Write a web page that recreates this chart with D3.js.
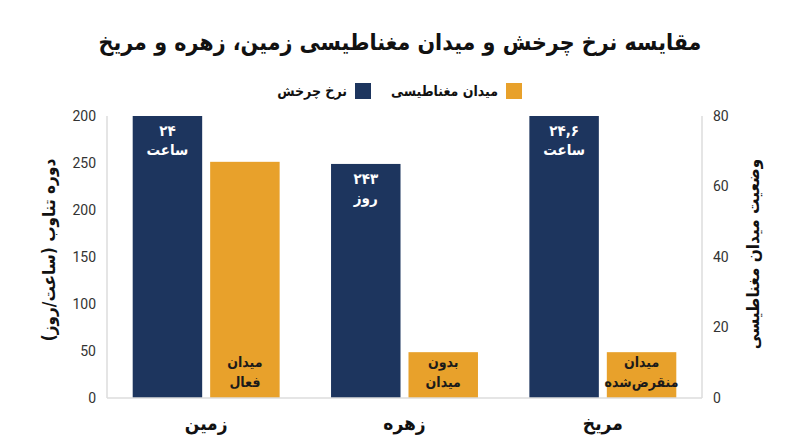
<!DOCTYPE html>
<html>
<head>
<meta charset="utf-8">
<script src="https://cdn.jsdelivr.net/npm/d3@7"></script>
<style>
  body { margin: 0; background: #fff; }
  svg text { font-family: "DejaVu Sans Condensed", "DejaVu Sans", Roboto, sans-serif; }
  svg text.tick-label { font-family: Roboto, "DejaVu Sans", sans-serif; }
</style>
</head>
<body>
<div id="chart"></div>
<script>
// Data
const categories = ["زمین", "زهره", "مریخ"];
const rotationValues = [300, 249, 300];       // left axis (bar heights as drawn)
const magneticValues = [67, 13, 13];          // right axis
const rotationLabels = [["۲۴", "ساعت"], ["۲۴۳", "روز"], ["۲۴,۶", "ساعت"]];
const magneticLabels = [["میدان", "فعال"], ["بدون", "میدان"], ["میدان", "منقرض‌شده"]];
const leftTicks = [0, 50, 100, 150, 200, 250, 300];
const leftTickLabels = ["0", "50", "100", "150", "200", "250", "200"];
const rightTicks = [0, 20, 40, 60, 80];

const WIDTH = 800, HEIGHT = 447;
const NAVY = "#1d355e", ORANGE = "#e8a12b";
const plot = { left: 107, right: 702, top: 116, bottom: 398 };

const svg = d3.select("#chart").append("svg")
    .attr("width", WIDTH)
    .attr("height", HEIGHT);

const x0 = d3.scaleBand()
    .domain(categories)
    .range([plot.left, plot.right]);

const x1 = d3.scaleBand()
    .domain(["rot", "mag"])
    .range([25.7, x0.bandwidth() - 25.7])
    .paddingInner(0.103);

const yL = d3.scaleLinear().domain([0, 300]).range([plot.bottom, plot.top]);
const yR = d3.scaleLinear().domain([0, 80]).range([plot.bottom, plot.top]);

// Title
svg.append("text")
    .attr("x", WIDTH / 2)
    .attr("y", 50)
    .attr("text-anchor", "middle")
    .attr("direction", "rtl")
    .attr("font-size", 23)
    .attr("font-weight", "bold")
    .attr("fill", "#111")
    .text("مقایسه نرخ چرخش و میدان مغناطیسی زمین، زهره و مریخ");

// Legend
const legendItems = [
    { label: "میدان مغناطیسی", color: ORANGE, x: 522 },
    { label: "نرخ چرخش", color: NAVY, x: 371 }
];
legendItems.forEach(d => {
    svg.append("rect")
        .attr("x", d.x - 16)
        .attr("y", 83)
        .attr("width", 16)
        .attr("height", 16)
        .attr("fill", d.color);
    svg.append("text")
        .attr("x", d.x - 24)
        .attr("y", 96)
        .attr("text-anchor", "start")
        .attr("direction", "rtl")
        .attr("font-size", 14)
        .attr("font-weight", "bold")
        .attr("fill", "#111")
        .text(d.label);
});

// Axis lines
const lineColor = "#dddddd";
svg.append("line")
    .attr("x1", plot.left).attr("x2", plot.left)
    .attr("y1", plot.top).attr("y2", plot.bottom)
    .attr("stroke", lineColor).attr("stroke-width", 1.5);
svg.append("line")
    .attr("x1", plot.right).attr("x2", plot.right)
    .attr("y1", plot.top).attr("y2", plot.bottom)
    .attr("stroke", lineColor).attr("stroke-width", 1.5);

// Bars
const groups = svg.selectAll(".group")
    .data(categories)
    .enter().append("g")
    .attr("class", "group")
    .attr("transform", d => `translate(${x0(d)},0)`);

groups.append("rect")
    .attr("x", x1("rot"))
    .attr("y", (d, i) => yL(rotationValues[i]))
    .attr("width", x1.bandwidth())
    .attr("height", (d, i) => plot.bottom - yL(rotationValues[i]))
    .attr("fill", NAVY);

groups.append("rect")
    .attr("x", x1("mag"))
    .attr("y", (d, i) => yR(magneticValues[i]))
    .attr("width", x1.bandwidth())
    .attr("height", (d, i) => plot.bottom - yR(magneticValues[i]))
    .attr("fill", ORANGE);

// Bar labels
groups.each(function (d, i) {
    const g = d3.select(this);
    const top = yL(rotationValues[i]);
    rotationLabels[i].forEach((t, j) => {
        g.append("text")
            .attr("x", x1("rot") + x1.bandwidth() / 2)
            .attr("y", top + 20 + j * 19)
            .attr("text-anchor", "middle")
            .attr("direction", "rtl")
            .attr("font-size", 15)
            .attr("font-weight", "bold")
            .attr("fill", "#fff")
            .text(t);
    });
    magneticLabels[i].forEach((t, j) => {
        g.append("text")
            .attr("x", x1("mag") + x1.bandwidth() / 2)
            .attr("y", plot.bottom - 31 + j * 20)
            .attr("text-anchor", "middle")
            .attr("direction", "rtl")
            .attr("font-size", 14)
            .attr("font-weight", "bold")
            .attr("fill", "#1a1a1a")
            .text(t);
    });
});

// Baseline
svg.append("line")
    .attr("x1", plot.left).attr("x2", plot.right)
    .attr("y1", plot.bottom).attr("y2", plot.bottom)
    .attr("stroke", lineColor).attr("stroke-width", 1.5);

// Left axis
const leftAxis = d3.axisLeft(yL)
    .tickValues(leftTicks)
    .tickFormat((d, i) => leftTickLabels[i])
    .tickSize(0)
    .tickPadding(11);
const gL = svg.append("g")
    .attr("transform", `translate(${plot.left},0)`)
    .call(leftAxis);
gL.select(".domain").remove();
gL.selectAll("text")
    .attr("class", "tick-label")
    .attr("font-size", 14)
    .attr("fill", "#333");

// Right axis
const rightAxis = d3.axisRight(yR)
    .tickValues(rightTicks)
    .tickSize(0)
    .tickPadding(11);
const gR = svg.append("g")
    .attr("transform", `translate(${plot.right},0)`)
    .call(rightAxis);
gR.select(".domain").remove();
gR.selectAll("text")
    .attr("class", "tick-label")
    .attr("font-size", 14)
    .attr("fill", "#333");

// Category labels
svg.selectAll(".cat-label")
    .data(categories)
    .enter().append("text")
    .attr("class", "cat-label")
    .attr("x", d => x0(d) + x0.bandwidth() / 2)
    .attr("y", 430)
    .attr("text-anchor", "middle")
    .attr("direction", "rtl")
    .attr("font-size", 19)
    .attr("font-weight", "bold")
    .attr("fill", "#111")
    .text(d => d);

// Axis titles
svg.append("text")
    .attr("transform", "translate(55,250) rotate(-90)")
    .attr("text-anchor", "middle")
    .attr("direction", "rtl")
    .attr("font-size", 17)
    .attr("font-weight", "bold")
    .attr("fill", "#111")
    .text("دوره تناوب (ساعت/روز)");

svg.append("text")
    .attr("transform", "translate(759,254) rotate(-90)")
    .attr("text-anchor", "middle")
    .attr("direction", "rtl")
    .attr("font-size", 17)
    .attr("font-weight", "bold")
    .attr("fill", "#111")
    .text("وضعیت میدان مغناطیسی");
</script>
</body>
</html>
